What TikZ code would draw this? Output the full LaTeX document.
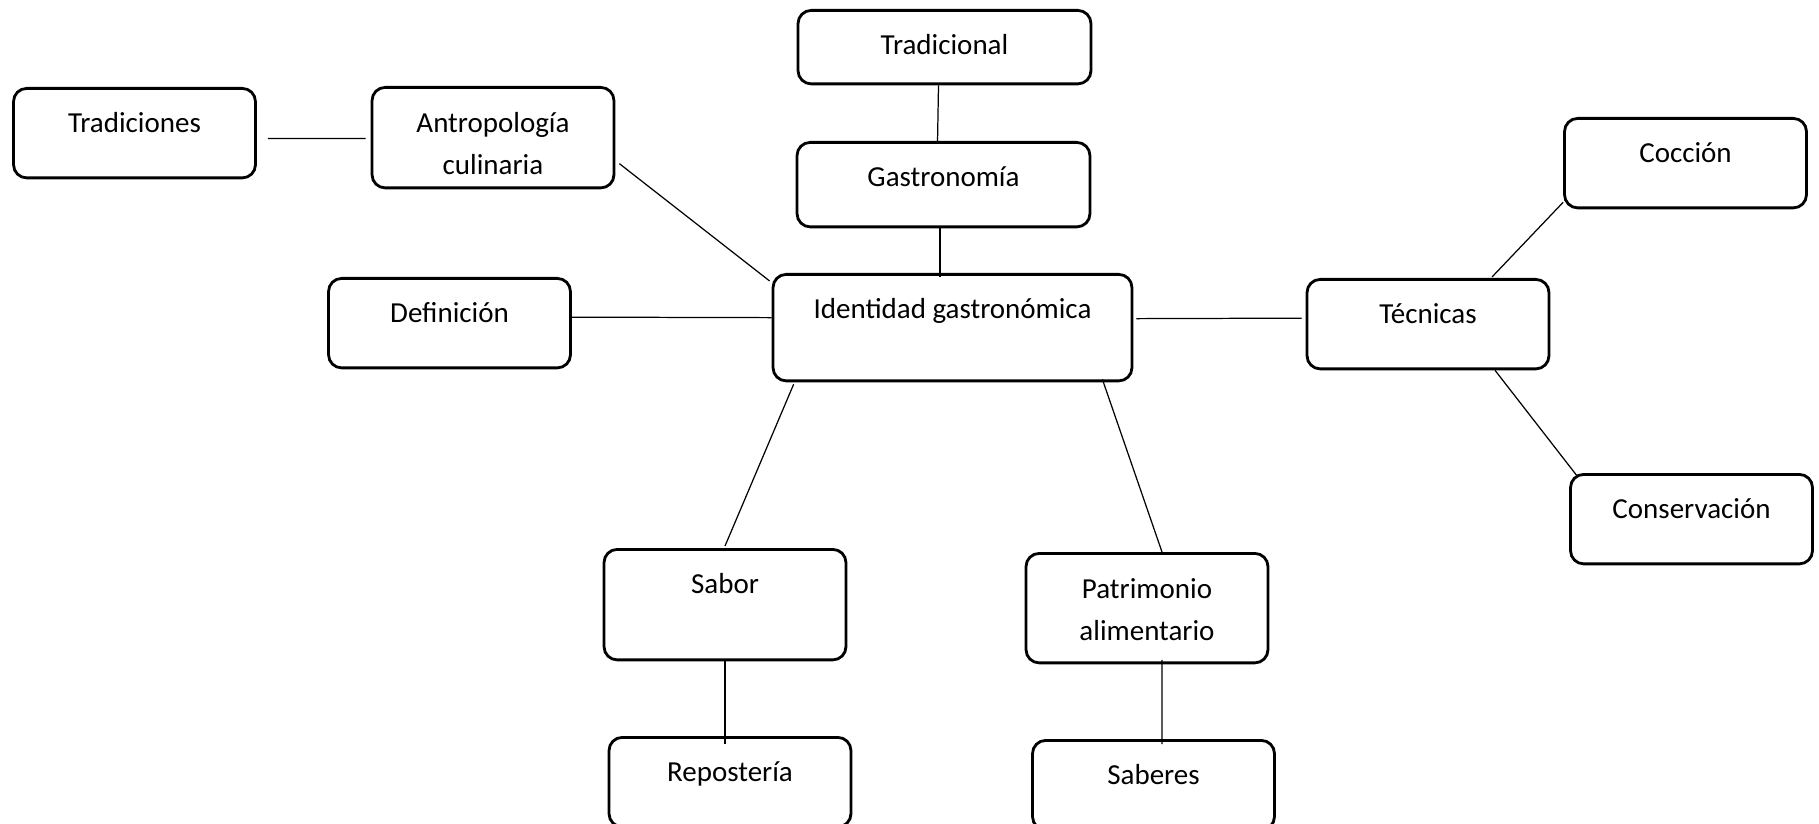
\documentclass[tikz,border=0pt]{standalone}
\usepackage{fontspec}
\setmainfont{Carlito}
\usepackage{tikz}
\tikzstyle{caja} = [
    draw,
    line width=1.6pt,
    rounded corners=7.5pt,
    inner sep=0pt,
    anchor=north,
    align=center,
    minimum width=4.84cm,
    text height=0.89cm,
    text depth=0.9cm,
    font=\fontsize{16.5}{24.1}\selectfont
]
\tikzstyle{linea} = [
    line width=0.7pt
]

\begin{document}
\begin{tikzpicture}[x=0.02cm, y=-0.02cm]
    \useasboundingbox (0,0) rectangle (1819,824);
    % Centro
    \node[caja, minimum width=7.18cm, text depth=1.24cm] (ident) at (952.5,273) {Identidad gastronómica};
    \node[caja, minimum width=5.86cm, text depth=0.8cm] (gastro) at (943.5,141) {Gastronomía};
    \node[caja, minimum width=5.86cm, text depth=0.58cm] (tradicional) at (944.5,9) {Tradicional};
    % Izquierda
    \node[caja, text height=1.74cm, text depth=0.27cm] (antro) at (493,86) {Antropología\\culinaria};
    \node[caja] (tradiciones) at (134.5,87) {Tradiciones};
    \node[caja] (definicion) at (449.5,277) {Definición};
    % Derecha
    \node[caja] (tecnicas) at (1428,278) {Técnicas};
    \node[caja] (coccion) at (1685.5,117) {Cocción};
    \node[caja] (conservacion) at (1691.5,473) {Conservación};
    % Abajo
    \node[caja, text depth=1.32cm] (sabor) at (725,548) {Sabor};
    \node[caja, text height=1.75cm, text depth=0.44cm] (patrimonio) at (1147,552) {Patrimonio\\alimentario};
    \node[caja] (reposteria) at (730,736) {Repostería};
    \node[caja] (saberes) at (1153.5,739) {Saberes};
    % Conectores
    \draw[linea] ([shift={(-6,0)}]tradicional.south) -- ([shift={(-6,2)}]gastro.north);
    \draw[linea] ([shift={(-3.5,0)}]gastro.south) -- ([shift={(-12.5,4)}]ident.north);
    \draw[linea] ([shift={(11,5.25)}]tradiciones.east) -- ([shift={(-5,0.75)}]antro.west);
    \draw[linea] ([shift={(4,26)}]antro.east) -- ([shift={(-2,8)}]ident.north west);
    \draw[linea] ([shift={(0,-6)}]definicion.east) -- ([shift={(0,-10)}]ident.west);
    \draw[linea] ([shift={(3,-9)}]ident.east) -- ([shift={(-4,-6)}]tecnicas.west);
    \draw[linea] ([shift={(64,-1)}]tecnicas.north) -- ([shift={(0,-7)}]coccion.south west);
    \draw[linea] ([shift={(67,0)}]tecnicas.south) -- ([shift={(8,3)}]conservacion.north west);
    \draw[linea] ([shift={(22,2)}]ident.south west) -- ([shift={(0,-2)}]sabor.north);
    \draw[linea] ([shift={(-31,-3)}]ident.south east) -- ([shift={(15,0)}]patrimonio.north);
    \draw[linea] ([shift={(0,-1.5)}]sabor.south) -- ([shift={(-5,8)}]reposteria.north);
    \draw[linea] ([shift={(15,-4.5)}]patrimonio.south) -- ([shift={(8.5,5)}]saberes.north);
\end{tikzpicture}
\end{document}
